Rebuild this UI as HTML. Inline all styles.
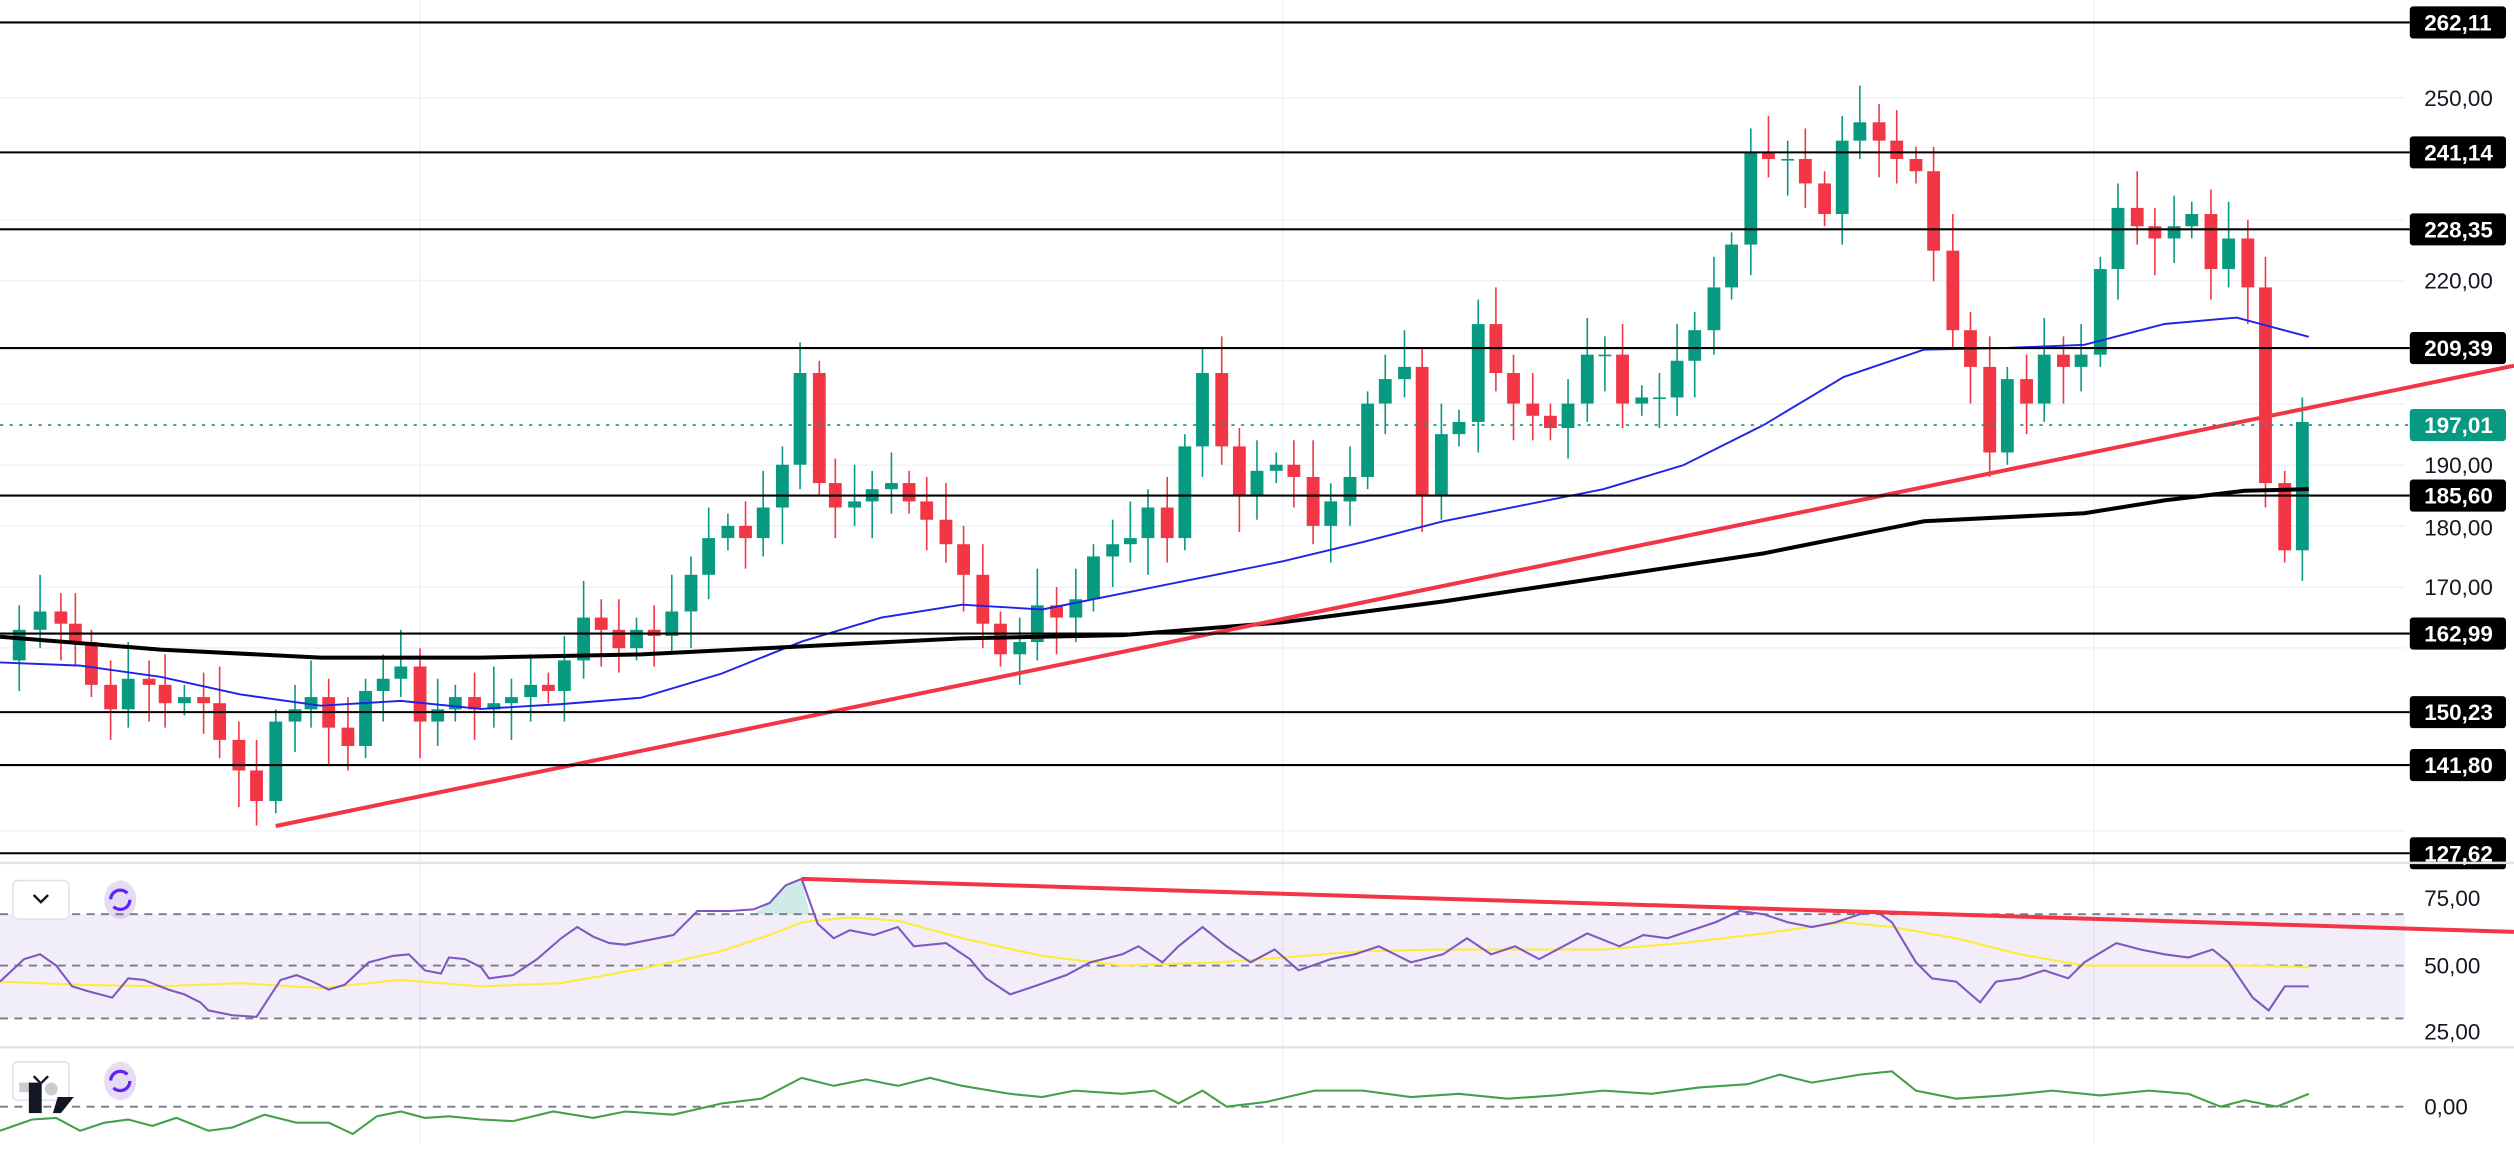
<!DOCTYPE html>
<html><head><meta charset="utf-8"><style>
html,body{margin:0;padding:0;background:#fff;width:2514px;height:1158px;overflow:hidden}
svg{display:block}
text{font-family:"Liberation Sans",sans-serif}
</style></head><body>
<svg id="s" width="2514" height="1158" viewBox="0 0 1568 722" preserveAspectRatio="none" xmlns="http://www.w3.org/2000/svg">
<g id="grid" stroke="#f0f3fa" stroke-width="1">
<line x1="262" y1="0" x2="262" y2="713"/><line x1="800" y1="0" x2="800" y2="713"/><line x1="1306" y1="0" x2="1306" y2="713"/>
<line x1="0" y1="61" x2="1500" y2="61"/><line x1="0" y1="137" x2="1500" y2="137"/><line x1="0" y1="175" x2="1500" y2="175"/><line x1="0" y1="252" x2="1500" y2="252"/><line x1="0" y1="290" x2="1500" y2="290"/><line x1="0" y1="328" x2="1500" y2="328"/><line x1="0" y1="366" x2="1500" y2="366"/><line x1="0" y1="404" x2="1500" y2="404"/><line x1="0" y1="518" x2="1500" y2="518"/>
</g>
<g id="candles"></g>
<polyline fill="none" stroke="#1f22e8" stroke-width="1.2" points="0,413 50,415 100,422 150,433 200,440 250,437 300,442 350,439 400,435 450,420 500,400 550,385 600,377 650,380 700,370 750,360 800,350 850,338 900,325 950,315 1000,305 1050,290 1100,265 1150,235 1200,218 1250,217 1300,215 1350,202 1395,198 1440,210"/>
<polyline fill="none" stroke="#000" stroke-width="2.5" points="0,397 100,405 200,410 300,410 400,408 500,403 600,398 700,396 800,388 900,375 1000,360 1100,345 1200,325 1300,320 1350,312 1400,306 1440,305"/>
<line x1="172" y1="515" x2="1568" y2="228" stroke="#f23645" stroke-width="2.5"/>
<g stroke="#000" stroke-width="1.3">
<line x1="0" y1="14" x2="1503" y2="14"/><line x1="0" y1="95" x2="1503" y2="95"/><line x1="0" y1="143" x2="1503" y2="143"/><line x1="0" y1="217" x2="1503" y2="217"/><line x1="0" y1="309" x2="1503" y2="309"/><line x1="0" y1="395" x2="1503" y2="395"/><line x1="0" y1="444" x2="1503" y2="444"/><line x1="0" y1="477" x2="1503" y2="477"/><line x1="0" y1="532" x2="1503" y2="532"/>
</g>
<line x1="0" y1="265" x2="1503" y2="265" stroke="#089981" stroke-width="1" stroke-dasharray="2,4"/>
<g font-size="14" fill="#131722">
<text x="1512" y="66">250,00</text><text x="1512" y="180">220,00</text><text x="1512" y="295">190,00</text><text x="1512" y="334">180,00</text><text x="1512" y="371">170,00</text>
<text x="1512" y="565">75,00</text><text x="1512" y="607">50,00</text><text x="1512" y="648">25,00</text><text x="1512" y="695">0,00</text>
</g>
<g id="labels" font-size="14" font-weight="bold" fill="#fff"></g>
<line x1="0" y1="538" x2="1568" y2="538" stroke="#e0e3eb" stroke-width="1.5"/>
<line x1="0" y1="653" x2="1568" y2="653" stroke="#e0e3eb" stroke-width="1.5"/>
<rect x="0" y="570" width="1500" height="65" fill="#7e57c2" fill-opacity="0.1"/>
<g stroke="#787b86" stroke-width="1.2" stroke-dasharray="5,4">
<line x1="0" y1="570" x2="1500" y2="570"/><line x1="0" y1="602" x2="1500" y2="602"/><line x1="0" y1="635" x2="1500" y2="635"/><line x1="0" y1="690" x2="1500" y2="690"/>
</g>
<polygon points="480,563 490,552 500,548 505,570 470,570" fill="#089981" fill-opacity="0.2"/>
<polyline fill="none" stroke="#ffeb3b" stroke-width="1.3" points="0,612 50,614 100,615 150,613 200,616 250,611 300,615 350,613 400,604 450,593 480,583 500,575 530,572 560,574 600,585 650,596 700,602 760,600 800,597 850,593 900,592 1000,592 1050,588 1100,582 1150,575 1180,578 1220,585 1260,595 1300,602 1350,602 1400,602 1440,603"/>
<polyline fill="none" stroke="#7e57c2" stroke-width="1.3" points="0,612 15,598 25,595 35,602 45,615 55,618 70,622 80,610 90,611 105,617 115,620 125,625 130,630 145,633 160,634 175,611 185,608 195,612 205,617 215,614 230,600 245,596 255,595 265,605 275,607 280,597 290,598 300,603 305,610 320,608 335,598 350,585 360,578 370,584 380,588 390,589 405,586 420,583 435,568 455,568 470,567 480,563 490,552 500,548 510,576 520,585 530,580 545,583 560,578 570,590 590,588 605,598 615,610 630,620 645,615 665,608 680,600 700,595 710,590 725,600 735,590 750,578 765,590 780,600 795,592 810,605 830,598 845,595 860,590 880,600 900,595 915,585 930,595 945,590 960,598 975,590 990,582 1010,590 1025,583 1040,585 1055,580 1070,575 1085,568 1100,570 1115,575 1130,578 1145,575 1160,570 1170,568 1180,575 1195,600 1205,610 1220,612 1235,625 1245,612 1260,610 1275,605 1290,610 1300,600 1320,588 1335,592 1350,595 1365,597 1380,592 1390,600 1405,622 1415,630 1425,615 1440,615"/>
<line x1="500" y1="548" x2="1568" y2="581" stroke="#f23645" stroke-width="2.5"/>
<polyline fill="none" stroke="#43a047" stroke-width="1.3" points="0,705 20,698 35,697 50,705 65,700 80,698 95,702 110,697 130,705 145,703 165,695 185,700 205,700 220,707 235,696 250,693 265,697 280,696 300,698 320,699 345,693 370,697 390,693 420,695 450,688 475,685 500,672 520,677 540,673 560,677 580,672 600,677 630,682 650,684 670,680 700,682 720,680 735,688 750,680 765,690 790,687 820,680 850,680 880,684 910,682 940,685 970,683 1000,680 1030,682 1060,678 1090,676 1110,670 1130,675 1160,670 1180,668 1195,680 1220,685 1250,683 1280,680 1310,683 1340,680 1365,682 1385,690 1400,686 1420,690 1440,682"/>
<g>
<rect x="8" y="549" width="35" height="24" rx="3" fill="#fff" stroke="#e0e3eb"/>
<path d="M21,558 l4.5,4.5 l4.5,-4.5" fill="none" stroke="#131722" stroke-width="1.5"/>
<ellipse cx="75" cy="561" rx="10" ry="12" fill="#7e57c2" fill-opacity="0.2"/>
<circle cx="75" cy="561" r="6" fill="none" stroke="#651fff" stroke-width="2" stroke-dasharray="14,5"/>
<rect x="8" y="662" width="35" height="24" rx="3" fill="#fff" stroke="#e0e3eb"/>
<path d="M21,671 l4.5,4.5 l4.5,-4.5" fill="none" stroke="#131722" stroke-width="1.5"/>
<ellipse cx="75" cy="674" rx="10" ry="12" fill="#7e57c2" fill-opacity="0.2"/>
<circle cx="75" cy="674" r="6" fill="none" stroke="#651fff" stroke-width="2" stroke-dasharray="14,5"/>
<rect x="12" y="675" width="14" height="6" fill="#ccc"/><rect x="18" y="675" width="8" height="19" fill="#131722"/>
<circle cx="32" cy="679" r="4" fill="#ccc"/><path d="M36,684 l10,0 l-8,10 l-5,0z" fill="#131722"/>
</g>
</svg>
<script>
var P=function(p){return 61+(250-p)*3.8125;};
var d=[[0,158],[12,163],[25,166],[38,164],[47,161],[57,154],[69,150],[80,155],[93,154],[103,151],[115,152],[127,151],[137,145],[149,140],[160,135],[172,148],[184,150],[194,152],[205,147],[217,144],[228,153],[239,155],[250,157],[262,148],[273,150],[284,152],[296,150],[308,151],[319,152],[331,154],[342,153],[352,158],[364,165],[375,163],[386,160],[397,163],[408,162],[419,166],[431,172],[442,178],[454,180],[465,178],[476,183],[488,190],[499,205],[511,187],[521,183],[533,184],[544,186],[556,187],[567,184],[578,181],[590,177],[601,172],[613,164],[624,159],[636,161],[647,167],[659,165],[671,168],[682,175],[694,177],[705,178],[716,183],[728,178],[739,193],[750,205],[762,193],[773,185],[784,189],[796,190],[807,188],[819,180],[830,184],[842,188],[853,200],[864,204],[876,206],[887,185],[899,195],[910,197],[922,213],[933,205],[944,200],[956,198],[967,196],[978,200],[990,208],[1001,208],[1012,200],[1024,201],[1035,201],[1046,207],[1057,212],[1069,219],[1080,226],[1092,241],[1103,240],[1115,240],[1126,236],[1138,231],[1149,243],[1160,246],[1172,243],[1183,240],[1195,238],[1206,225],[1218,212],[1229,206],[1241,192],[1252,204],[1264,200],[1275,208],[1287,206],[1298,208],[1310,222],[1321,232],[1333,229],[1344,227],[1356,229],[1367,231],[1379,222],[1390,227],[1402,219],[1413,187],[1425,176],[1436,197]];
var g=document.getElementById('candles'),h='';
for(var i=1;i<d.length;i++){var x=d[i][0],o=d[i-1][1],c=d[i][1];var up=c>=o;var col=up?'#089981':'#f23645';
var hi=Math.max(o,c)+2+((i*7)%5),lo=Math.min(o,c)-2-((i*3)%5);
h+='<line x1="'+x+'" x2="'+x+'" y1="'+P(hi)+'" y2="'+P(lo)+'" stroke="'+col+'" stroke-width="1"/>';
var y1=P(Math.max(o,c)),y2=P(Math.min(o,c));h+='<rect x="'+(x-4)+'" y="'+y1+'" width="8" height="'+Math.max(1,y2-y1)+'" fill="'+col+'"/>';}
g.innerHTML=h;
var L=[[14,'262,11'],[95,'241,14'],[143,'228,35'],[217,'209,39'],[309,'185,60'],[395,'162,99'],[444,'150,23'],[477,'141,80'],[532,'127,62']],s='';
L.forEach(function(a){s+='<rect x="1503" y="'+(a[0]-10)+'" width="60" height="20" rx="2" fill="#000"/><text x="1512" y="'+(a[0]+5)+'">'+a[1]+'</text>';});
s+='<rect x="1503" y="255" width="60" height="20" rx="2" fill="#089981"/><text x="1512" y="270">197,01</text>';
document.getElementById('labels').innerHTML=s;
</script>
</body></html>
